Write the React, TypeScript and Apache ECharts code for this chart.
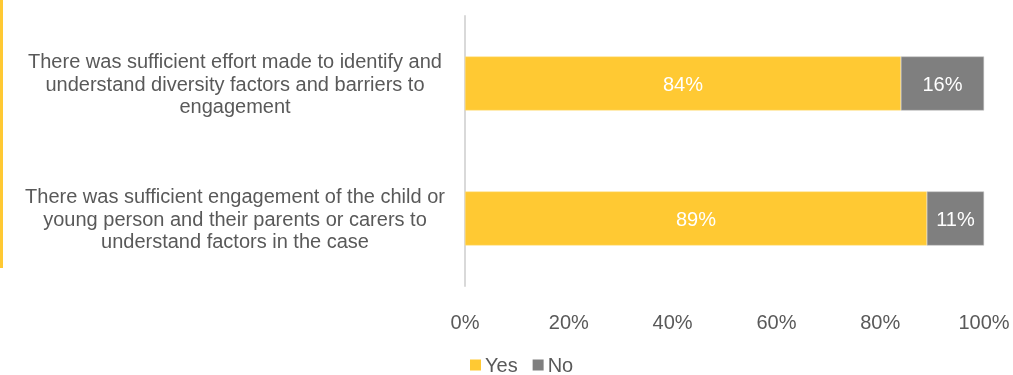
import React, { useEffect, useRef } from "react";
import * as echarts from "echarts";

const categories = [
  "There was sufficient effort made to identify and\nunderstand diversity factors and barriers to\nengagement",
  "There was sufficient engagement of the child or\nyoung person and their parents or carers to\nunderstand factors in the case",
];
const yesValues = [84, 89];
const noValues = [16, 11];
const xTicks = [0, 20, 40, 60, 80, 100];

export default function App() {
  const ref = useRef<HTMLDivElement>(null);
  useEffect(() => {
    if (!ref.current) return;
    const chart = echarts.init(ref.current, undefined, { renderer: "svg" });
    const font = "Liberation Sans, Arial, sans-serif";
    chart.setOption({
      animation: false,
      textStyle: { fontFamily: font },
      grid: { left: 465, right: 29, top: 16, bottom: 89 },
      xAxis: {
        type: "value",
        min: xTicks[0],
        max: xTicks[xTicks.length - 1],
        interval: 20,
        axisLine: { show: false },
        axisTick: { show: false },
        splitLine: { show: false },
        axisLabel: {
          formatter: "{value}%",
          color: "#595959",
          fontSize: 20,
          margin: 26,
          fontFamily: font,
        },
      },
      yAxis: {
        type: "category",
        data: categories,
        inverse: true,
        axisLine: { show: true, lineStyle: { color: "#D9D9D9", width: 2 } },
        axisTick: { show: false },
        axisLabel: {
          color: "#595959",
          fontSize: 20,
          lineHeight: 22.5,
          align: "center",
          margin: 230,
          fontFamily: font,
        },
      },
      legend: {
        bottom: 0,
        left: 470,
        padding: 0,
        itemWidth: 11,
        itemHeight: 11,
        itemGap: 15,
        icon: "rect",
        itemStyle: { borderWidth: 0 },
        textStyle: { color: "#595959", fontSize: 20, fontFamily: font, padding: [0, 0, 0, -1] },
        data: ["Yes", "No"],
      },
      graphic: [
        {
          type: "rect",
          left: 0,
          top: 0,
          shape: { width: 3, height: 268 },
          style: { fill: "#FFC933" },
        },
      ],
      series: [
        {
          name: "Yes",
          type: "bar",
          stack: "s",
          data: yesValues,
          barWidth: 54,
          itemStyle: { color: "#FFC933", borderColor: "#FFE08A", borderWidth: 0.5 },
          label: {
            show: true,
            position: "inside",
            formatter: "{c}%",
            color: "#FFFFFF",
            fontSize: 20,
            fontFamily: font,
          },
        },
        {
          name: "No",
          type: "bar",
          stack: "s",
          data: noValues,
          barWidth: 54,
          itemStyle: { color: "#7F7F7F", borderColor: "#BFBFBF", borderWidth: 0.5 },
          label: {
            show: true,
            position: "inside",
            formatter: "{c}%",
            color: "#FFFFFF",
            fontSize: 20,
            fontFamily: font,
          },
        },
      ],
    });
    return () => chart.dispose();
  }, []);
  return (
    <div
      ref={ref}
      style={{ position: "fixed", left: 0, top: 0, width: 1013, height: 375 }}
    />
  );
}
